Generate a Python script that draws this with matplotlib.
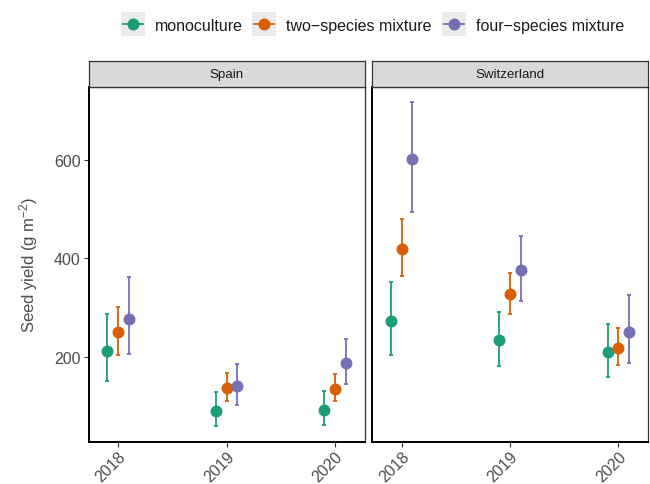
import numpy as np
import matplotlib
matplotlib.use("Agg")
import matplotlib.pyplot as plt
from matplotlib.lines import Line2D
from matplotlib.patches import Rectangle

plt.rcParams['font.family'] = ['Liberation Sans', 'DejaVu Sans']
plt.rcParams['mathtext.fontset'] = 'custom'
plt.rcParams['mathtext.rm'] = 'Liberation Sans'
plt.rcParams['mathtext.it'] = 'Liberation Sans'

# data
years = np.array([2018, 2019, 2020])
sites = ["Spain", "Switzerland"]
groups = ["monoculture", "two\u2212species mixture", "four\u2212species mixture"]
colors = ["#1B9E77", "#D95F02", "#7570B3"]

spain_mean = [[212, 90, 91], [250, 137, 135], [277, 140, 186]]
spain_low = [[151, 58, 60], [203, 110, 109], [205, 101, 145]]
spain_high = [[286, 128, 129], [301, 166, 164], [361, 184, 235]]

swiss_mean = [[273, 233, 209], [418, 326, 218], [601, 376, 250]]
swiss_low = [[204, 180, 158], [363, 286, 182], [494, 312, 186]]
swiss_high = [[351, 291, 267], [479, 370, 258], [716, 445, 324]]

site_data = {
    "Spain": (spain_mean, spain_low, spain_high),
    "Switzerland": (swiss_mean, swiss_low, swiss_high),
}

W, H = 650, 485
fig = plt.figure(figsize=(W / 100, H / 100), dpi=100)

def fx(px):
    return px / W

def fy(py):
    return 1 - py / H

panel_x = [(88.5, 364.5), (372.3, 647.7)]
panel_top, panel_bottom = 87.7, 442.7
strip_top = 62.3
dodge = [-0.1, 0.0, 0.1]
grey30 = "#4D4D4D"

for k, site in enumerate(sites):
    x0, x1 = panel_x[k]
    ax = fig.add_axes([fx(x0), fy(panel_bottom), fx(x1 - x0), (panel_bottom - panel_top) / H])
    mean, low, high = site_data[site]
    for g in range(3):
        m = np.array(mean[g])
        lo = np.array(low[g])
        hi = np.array(high[g])
        ax.errorbar(years + dodge[g], m, yerr=[m - lo, hi - m], fmt='o', ms=7.6,
                    color=colors[g], ecolor=colors[g], elinewidth=1.3,
                    capsize=1.3, capthick=1.3, zorder=3)
    ax.set_xlim(2017.73, 2020.27)
    ax.set_ylim(27, 748)
    ax.set_xticks(years)
    ax.set_xticklabels([str(y) for y in years], rotation=45, ha='right',
                       rotation_mode='anchor', color=grey30, fontsize=11.5)
    ax.tick_params(axis='x', length=3.5, width=0.8, color="#333333", pad=1.5)
    if k == 0:
        ax.set_yticks([200, 400, 600])
        ax.tick_params(axis='y', length=3.5, width=0.8, color="#333333",
                       labelsize=11.5, labelcolor=grey30, pad=2)
        ax.set_ylabel("Seed yield (g m$^{\\mathregular{\u22122}}$)", fontsize=12,
                      color=grey30, labelpad=10)
    else:
        ax.set_yticks([])
    for side in ['top', 'right']:
        ax.spines[side].set_color("#333333")
        ax.spines[side].set_linewidth(0.9)
    for side in ['left', 'bottom']:
        ax.spines[side].set_color("black")
        ax.spines[side].set_linewidth(1.4)

    # facet strip
    sax = fig.add_axes([fx(x0), fy(panel_top), fx(x1 - x0), (panel_top - strip_top) / H])
    sax.set_facecolor("#D9D9D9")
    sax.set_xticks([])
    sax.set_yticks([])
    for sp in sax.spines.values():
        sp.set_color("#333333")
        sp.set_linewidth(0.9)
    sax.text(0.5, 0.5, site, ha='center', va='center', fontsize=9.6,
             color="#1A1A1A", transform=sax.transAxes)

# legend drawn at the top, ggplot style keys
key_left = [121, 252.3, 442.3]
key_size = 24
key_cy = 25
for g in range(3):
    kx = key_left[g]
    fig.patches.append(Rectangle((fx(kx), fy(key_cy + key_size / 2)), fx(key_size), key_size / H,
                                 transform=fig.transFigure, facecolor="#EBEBEB",
                                 edgecolor="none", zorder=1))
    fig.lines.append(Line2D([fx(kx + 2), fx(kx + key_size - 2)], [fy(key_cy), fy(key_cy)],
                            transform=fig.transFigure, color=colors[g], lw=1.3, zorder=2))
    fig.lines.append(Line2D([fx(kx + key_size / 2)], [fy(key_cy)], marker='o', ms=7.6,
                            transform=fig.transFigure, color=colors[g], zorder=3))
    fig.text(fx(kx + key_size + 9.5), fy(key_cy), groups[g], ha='left', va='center_baseline',
             fontsize=11.5, color="#1A1A1A")

fig.savefig("out.png", dpi=100)
